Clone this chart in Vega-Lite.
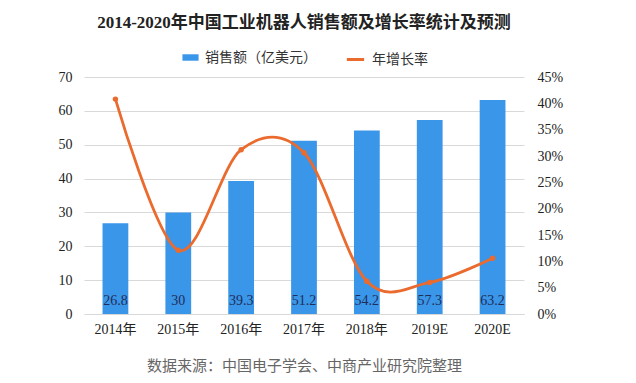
{
  "$schema": "https://vega.github.io/schema/vega-lite/v6.json",
  "width": 440,
  "height": 237,
  "autosize": {"type": "none"},
  "padding": {"left": 84, "top": 77, "right": 112, "bottom": 69},
  "background": "white",
  "title": {
    "text": "2014-2020年中国工业机器人销售额及增长率统计及预测",
    "font": "Liberation Serif, Noto Sans CJK SC",
    "fontSize": 17,
    "fontWeight": "bold",
    "color": "#222222",
    "anchor": "middle",
    "offset": 17
  },
  "data": {
    "values": [
      {"year": "2014年", "sales": 26.8, "growth": 0.408},
      {"year": "2015年", "sales": 30, "growth": 0.121},
      {"year": "2016年", "sales": 39.3, "growth": 0.312},
      {"year": "2017年", "sales": 51.2, "growth": 0.306},
      {"year": "2018年", "sales": 54.2, "growth": 0.062},
      {"year": "2019E", "sales": 57.3, "growth": 0.06},
      {"year": "2020E", "sales": 63.2, "growth": 0.106}
    ]
  },
  "encoding": {
    "x": {
      "field": "year",
      "type": "nominal",
      "sort": null,
      "scale": {"paddingInner": 0.59, "paddingOuter": 0.295},
      "axis": {
        "title": "数据来源：中国电子学会、中商产业研究院整理",
        "titleFont": "Noto Sans CJK SC",
        "titleFontSize": 15,
        "titleFontWeight": "normal",
        "titleColor": "#666666",
        "titlePadding": 22,
        "labelAngle": 0,
        "labelFont": "Liberation Serif, Noto Sans CJK SC",
        "labelFontSize": 14,
        "labelColor": "#222222",
        "labelPadding": 8,
        "ticks": false,
        "domainColor": "#d9d9d9"
      }
    }
  },
  "layer": [
    {
      "layer": [
        {
          "mark": {"type": "bar", "color": "#3A96E8"},
          "encoding": {
            "y": {
              "field": "sales",
              "type": "quantitative",
              "scale": {"domain": [0, 70]},
              "axis": {
                "title": null,
                "values": [0, 10, 20, 30, 40, 50, 60, 70],
                "labelOverlap": false,
                "orient": "left",
                "grid": true,
                "gridColor": "#d9d9d9",
                "domain": false,
                "ticks": false,
                "labelPadding": 12,
                "labelFont": "Liberation Serif",
                "labelFontSize": 14,
                "labelColor": "#222222"
              }
            },
            "fill": {
              "datum": "销售额（亿美元）",
              "scale": {"range": ["#3A96E8"]},
              "legend": {
                "orient": "none",
                "legendX": 98,
                "legendY": -28,
                "title": null,
                "symbolType": "M-1,-0.4H1V0.4H-1Z",
                "symbolSize": 260,
                "symbolStrokeWidth": 0,
                "labelFont": "Noto Sans CJK SC",
                "labelFontSize": 14,
                "labelColor": "#333333",
                "labelOffset": 6
              }
            }
          }
        },
        {
          "mark": {
            "type": "text",
            "dy": -13,
            "font": "Liberation Serif",
            "fontSize": 14,
            "color": "#1F2D5A"
          },
          "encoding": {
            "y": {
              "datum": 0,
              "type": "quantitative",
              "axis": {
                "title": null,
                "values": [0, 10, 20, 30, 40, 50, 60, 70],
                "labelOverlap": false,
                "orient": "left",
                "grid": true,
                "gridColor": "#d9d9d9",
                "domain": false,
                "ticks": false,
                "labelPadding": 12,
                "labelFont": "Liberation Serif",
                "labelFontSize": 14,
                "labelColor": "#222222"
              }
            },
            "text": {"field": "sales", "type": "quantitative"}
          }
        }
      ]
    },
    {
      "layer": [
        {
          "mark": {"type": "line", "interpolate": "cardinal", "strokeWidth": 2.8, "color": "#EA6B2D"},
          "encoding": {
            "y": {
              "field": "growth",
              "type": "quantitative",
              "scale": {"domain": [0, 0.45]},
              "axis": {
                "title": null,
                "orient": "right",
                "values": [0, 0.05, 0.1, 0.15, 0.2, 0.25, 0.3, 0.35, 0.4, 0.45],
                "labelOverlap": false,
                "format": ".0%",
                "grid": false,
                "domain": false,
                "ticks": false,
                "labelPadding": 13,
                "labelFont": "Liberation Serif",
                "labelFontSize": 14,
                "labelColor": "#222222"
              }
            },
            "stroke": {
              "datum": "年增长率",
              "scale": {"range": ["#EA6B2D"]},
              "legend": {
                "orient": "none",
                "legendX": 261,
                "legendY": -28,
                "title": null,
                "symbolType": "stroke",
                "symbolSize": 300,
                "symbolStrokeWidth": 3,
                "labelFont": "Noto Sans CJK SC",
                "labelFontSize": 14,
                "labelColor": "#333333",
                "labelOffset": 6
              }
            }
          }
        },
        {
          "mark": {"type": "point", "filled": true, "size": 30, "color": "#EA6B2D", "opacity": 1},
          "encoding": {
            "y": {
              "field": "growth",
              "type": "quantitative",
              "axis": {
                "title": null,
                "orient": "right",
                "values": [0, 0.05, 0.1, 0.15, 0.2, 0.25, 0.3, 0.35, 0.4, 0.45],
                "labelOverlap": false,
                "format": ".0%",
                "grid": false,
                "domain": false,
                "ticks": false,
                "labelPadding": 13,
                "labelFont": "Liberation Serif",
                "labelFontSize": 14,
                "labelColor": "#222222"
              }
            }
          }
        }
      ]
    }
  ],
  "resolve": {"scale": {"y": "independent", "fill": "independent", "stroke": "independent"}},
  "config": {
    "view": {"stroke": null}
  }
}
